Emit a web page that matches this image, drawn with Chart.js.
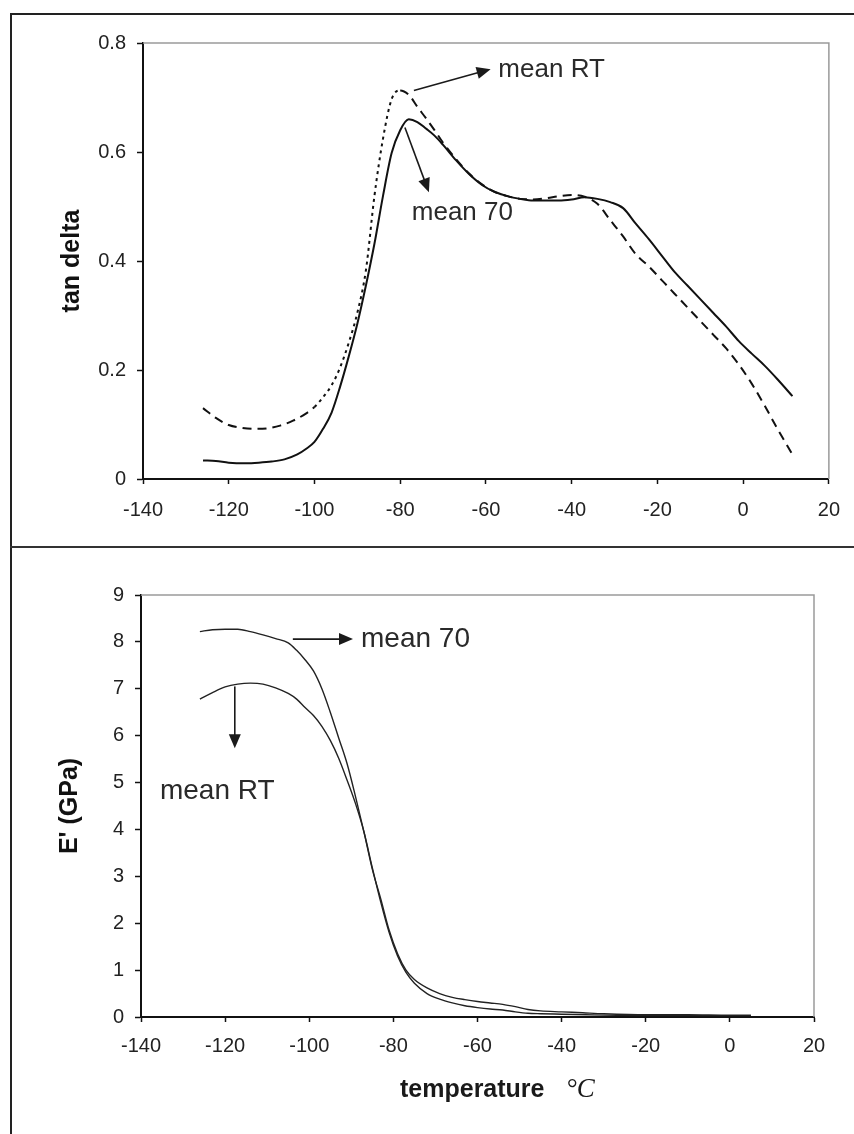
<!DOCTYPE html>
<html><head><meta charset="utf-8">
<script src="https://cdn.jsdelivr.net/npm/chart.js@4.4.1/dist/chart.umd.min.js"></script>
<style>
html,body{margin:0;padding:0;background:#fff;}
#page{position:relative;width:854px;height:1134px;overflow:hidden;background:#fff;}
.fr{position:absolute;background:#222;z-index:2;}
#w1{position:absolute;left:0;top:0;width:854px;height:546px;}
#w2{position:absolute;left:0;top:548px;width:854px;height:586px;}
</style></head>
<body>
<div id="page">
  <div id="w1"><canvas id="c1"></canvas></div>
  <div id="w2"><canvas id="c2"></canvas></div>
  <div class="fr" style="left:10px;top:13px;width:2px;height:1121px;"></div>
  <div class="fr" style="left:10px;top:13px;width:844px;height:2px;"></div>
  <div class="fr" style="left:10px;top:546px;width:844px;height:2px;background:#333;"></div>
</div>
<script>
// ---------- tick labels ----------
const tempTicks = [-140, -120, -100, -80, -60, -40, -20, 0, 20];
const tanTicks = [0, 0.2, 0.4, 0.6, 0.8];
const modTicks = [0, 1, 2, 3, 4, 5, 6, 7, 8, 9];

// ---------- tan delta, mean 70 (solid) ----------
const tan70X = [-126, -123, -120, -116, -113, -110, -107, -104, -102, -100, -98, -96, -94, -92, -90, -88, -86, -84, -82, -80, -78, -76, -74, -72, -70, -67, -64, -61, -58, -55, -52, -49, -46, -43, -40, -37, -34, -31, -28, -25, -22, -19, -16, -13, -10, -7, -4, -1, 2, 5, 8, 11.5];
const tan70Y = [0.034, 0.033, 0.030, 0.029, 0.030, 0.032, 0.036, 0.045, 0.055, 0.068, 0.092, 0.122, 0.170, 0.225, 0.285, 0.355, 0.432, 0.520, 0.598, 0.640, 0.660, 0.655, 0.643, 0.630, 0.613, 0.585, 0.560, 0.540, 0.527, 0.519, 0.514, 0.511, 0.511, 0.511, 0.513, 0.517, 0.514, 0.508, 0.497, 0.468, 0.440, 0.410, 0.380, 0.355, 0.330, 0.305, 0.280, 0.253, 0.230, 0.208, 0.183, 0.152];

// ---------- tan delta, mean RT (dashed) ----------
const tanRTX = [-126, -123, -120, -117, -114, -111, -108, -105, -102, -100, -98, -96, -94, -92, -90, -88, -86, -84, -82, -80, -78, -76, -74, -72, -70, -67, -64, -61, -58, -55, -52, -49, -46, -43, -40, -37, -34, -31, -28, -25, -22, -19, -16, -13, -10, -7, -4, -1, 2, 5, 8, 11.5];
const tanRTY = [0.130, 0.112, 0.099, 0.094, 0.092, 0.093, 0.098, 0.107, 0.120, 0.132, 0.150, 0.172, 0.205, 0.250, 0.305, 0.383, 0.520, 0.625, 0.697, 0.713, 0.705, 0.683, 0.662, 0.640, 0.617, 0.587, 0.561, 0.541, 0.527, 0.519, 0.514, 0.513, 0.515, 0.519, 0.521, 0.518, 0.505, 0.475, 0.445, 0.412, 0.390, 0.365, 0.340, 0.315, 0.290, 0.265, 0.240, 0.210, 0.175, 0.135, 0.092, 0.045];

// ---------- E' (GPa), mean 70 ----------
const mod70X = [-126, -123, -120, -117, -114, -111, -108, -105, -103, -101, -99, -97, -95, -93, -91, -89, -87, -85, -83, -81, -79, -77, -75, -72, -69, -66, -63, -60, -57, -54, -51, -48, -45, -40, -35, -30, -20, -10, 0, 5];
const mod70Y = [8.22, 8.26, 8.27, 8.27, 8.22, 8.15, 8.07, 7.98, 7.82, 7.62, 7.38, 7.00, 6.50, 5.95, 5.40, 4.70, 3.95, 3.15, 2.52, 1.85, 1.35, 1.00, 0.80, 0.62, 0.50, 0.42, 0.37, 0.33, 0.30, 0.27, 0.22, 0.16, 0.13, 0.11, 0.09, 0.07, 0.05, 0.05, 0.04, 0.04];

// ---------- E' (GPa), mean RT ----------
const modRTX = [-126, -123, -120, -117, -114, -111, -108, -105, -103, -101, -99, -97, -95, -93, -91, -89, -87, -85, -83, -81, -79, -77, -75, -72, -69, -66, -63, -60, -57, -54, -51, -48, -45, -40, -30, -20, -10, 0, 5];
const modRTY = [6.78, 6.92, 7.04, 7.10, 7.12, 7.10, 7.02, 6.90, 6.78, 6.60, 6.43, 6.20, 5.90, 5.52, 5.05, 4.55, 3.95, 3.18, 2.45, 1.80, 1.30, 0.95, 0.72, 0.50, 0.38, 0.30, 0.24, 0.20, 0.17, 0.15, 0.11, 0.08, 0.07, 0.06, 0.04, 0.03, 0.03, 0.03, 0.03];

const xy = (xs, ys) => xs.map((x, i) => ({x: x, y: ys[i]}));
const SANS = '"Liberation Sans", Arial, sans-serif';

function drawArrow(ctx, x1, y1, x2, y2) {
  const a = Math.atan2(y2 - y1, x2 - x1), L = 14, W = 6;
  const c = Math.cos(a), s = Math.sin(a);
  ctx.beginPath();
  ctx.moveTo(x1, y1);
  ctx.lineTo(x2 - L * 0.7 * c, y2 - L * 0.7 * s);
  ctx.stroke();
  ctx.beginPath();
  ctx.moveTo(x2, y2);
  ctx.lineTo(x2 - L * c + W * s, y2 - L * s - W * c);
  ctx.lineTo(x2 - L * c - W * s, y2 - L * s + W * c);
  ctx.closePath();
  ctx.fill();
}

const annotPlugin = {
  id: 'annot',
  beforeDatasetsDraw(chart) {
    const {ctx, chartArea: a} = chart;
    ctx.save();
    ctx.strokeStyle = '#9a9a9a';
    ctx.lineWidth = 1.5;
    ctx.beginPath();
    ctx.moveTo(a.left, a.top);
    ctx.lineTo(a.right, a.top);
    ctx.lineTo(a.right, a.bottom);
    ctx.stroke();
    ctx.restore();
  },
  afterDraw(chart, args, opts) {
    const {ctx, chartArea: a} = chart;
    const sx = chart.scales.x, sy = chart.scales.y;
    ctx.save();
    ctx.strokeStyle = '#1a1a1a';
    ctx.fillStyle = '#1a1a1a';
    ctx.lineWidth = 1.6;
    (opts.arrows || []).forEach(ar => {
      drawArrow(ctx, sx.getPixelForValue(ar.from[0]), sy.getPixelForValue(ar.from[1]),
                     sx.getPixelForValue(ar.to[0]), sy.getPixelForValue(ar.to[1]));
    });
    ctx.fillStyle = '#2a2a2a';
    ctx.textBaseline = 'middle';
    ctx.textAlign = 'left';
    (opts.labels || []).forEach(lb => {
      ctx.font = lb.size + 'px ' + SANS;
      ctx.fillText(lb.text, sx.getPixelForValue(lb.x), sy.getPixelForValue(lb.y));
    });
    if (opts.xTitle) {
      const bx = a.left + opts.xTitle.dx, by = a.bottom + opts.xTitle.dy;
      ctx.textBaseline = 'alphabetic';
      ctx.fillStyle = '#1a1a1a';
      ctx.font = 'bold 25px ' + SANS;
      ctx.fillText(opts.xTitle.main, bx, by);
      ctx.font = 'italic 27px "Liberation Serif", "DejaVu Serif", serif';
      ctx.fillText(opts.xTitle.unit, bx + opts.xTitle.unitDx, by);
    }
    ctx.restore();
  }
};

function makeOpts(cfg) {
  return {
    responsive: true,
    maintainAspectRatio: false,
    animation: false,
    layout: {padding: {left: 0, right: cfg.padRight, top: cfg.padTop, bottom: 0}},
    plugins: {legend: {display: false}, tooltip: {enabled: false}, annot: cfg.annot},
    scales: {
      x: {
        type: 'linear', min: -140, max: 20,
        afterBuildTicks: s => { s.ticks = tempTicks.map(v => ({value: v})); },
        afterFit: s => { s.height = cfg.xH; },
        ticks: {font: {family: SANS, size: 20}, color: '#222', padding: cfg.xPad, maxRotation: 0, autoSkip: false, callback: v => String(v)},
        grid: {display: true, drawOnChartArea: false, drawTicks: true, tickLength: 5, tickColor: '#111', tickWidth: 1.5},
        border: {display: true, color: '#111', width: 2}
      },
      y: {
        type: 'linear', min: 0, max: cfg.yMax,
        afterBuildTicks: s => { s.ticks = cfg.yTicks.map(v => ({value: v})); },
        afterFit: s => { s.width = cfg.yW; },
        ticks: {font: {family: SANS, size: 20}, color: '#222', padding: 11, autoSkip: false, callback: v => String(v)},
        grid: {display: true, drawOnChartArea: false, drawTicks: true, tickLength: 6, tickColor: '#111', tickWidth: 1.5},
        border: {display: true, color: '#111', width: 2},
        title: {display: true, text: cfg.yTitle, color: '#111', font: {family: SANS, size: 25, weight: 'bold'}, padding: {top: cfg.yTitlePad, bottom: 0}}
      }
    }
  };
}

new Chart(document.getElementById('c1'), {
  type: 'line',
  data: {
    datasets: [
      {label: 'mean 70', data: xy(tan70X, tan70Y), borderColor: '#111', borderWidth: 2, pointRadius: 0, fill: false, cubicInterpolationMode: 'monotone'},
      {label: 'mean RT', data: xy(tanRTX, tanRTY), borderColor: '#111', borderWidth: 2, pointRadius: 0, fill: false, cubicInterpolationMode: 'monotone',
        borderDash: [9, 6],
        segment: {borderDash: c => (c.p0.parsed.x >= -100 && c.p1.parsed.x <= -80) ? [3, 4] : [9, 6]}}
    ]
  },
  options: makeOpts({
    padRight: 22, padTop: 43, xH: 67, xPad: 14, yW: 143, yMax: 0.8, yTicks: tanTicks,
    yTitle: 'tan delta', yTitlePad: 57,
    annot: {
      arrows: [{from: [-76.8, 0.713], to: [-58.9, 0.752]}, {from: [-78.9, 0.645], to: [-73.3, 0.526]}],
      labels: [{text: 'mean RT', x: -57.1, y: 0.750, size: 26}, {text: 'mean 70', x: -77.3, y: 0.488, size: 26}]
    }
  }),
  plugins: [annotPlugin]
});

new Chart(document.getElementById('c2'), {
  type: 'line',
  data: {
    datasets: [
      {label: 'mean 70', data: xy(mod70X, mod70Y), borderColor: '#222', borderWidth: 1.4, pointRadius: 0, fill: false, cubicInterpolationMode: 'monotone'},
      {label: 'mean RT', data: xy(modRTX, modRTY), borderColor: '#222', borderWidth: 1.4, pointRadius: 0, fill: false, cubicInterpolationMode: 'monotone'}
    ]
  },
  options: makeOpts({
    padRight: 40, padTop: 47, xH: 117, xPad: 12, yW: 141, yMax: 9, yTicks: modTicks,
    yTitle: "E' (GPa)", yTitlePad: 55,
    annot: {
      arrows: [{from: [-103.9, 8.06], to: [-89.6, 8.06]}, {from: [-117.7, 7.05], to: [-117.7, 5.73]}],
      labels: [{text: 'mean 70', x: -87.7, y: 8.06, size: 28}, {text: 'mean RT', x: -135.5, y: 4.81, size: 28}],
      xTitle: {main: 'temperature', unit: '°C', dx: 259, dy: 80, unitDx: 166}
    }
  }),
  plugins: [annotPlugin]
});
</script>
</body></html>
